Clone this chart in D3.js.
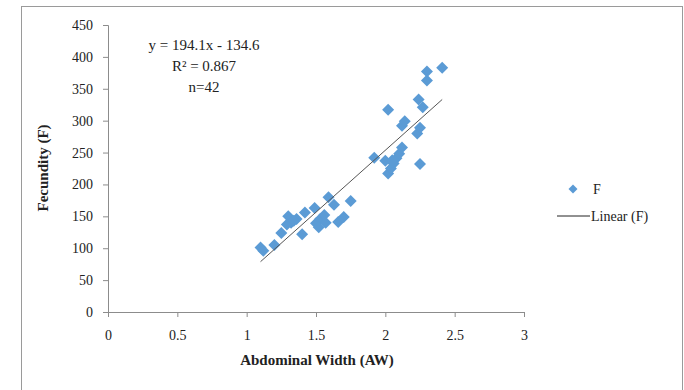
<!DOCTYPE html>
<html lang="en">
<head>
  <meta charset="UTF-8">
  <title>Fecundity vs Abdominal Width</title>
  <style>
    body { margin: 0; background: #fff; }
    svg { display: block; font-family: "Liberation Serif", "Times New Roman", serif; }
    .axis path, .axis line { stroke: #8c8c8c; }
    .title { font-size: 15px; font-weight: bold; fill: #222; }
    .note { font-size: 15px; fill: #222; }
    .legend { font-size: 14px; fill: #222; }
  </style>
</head>
<body>
  <svg id="chart" width="684" height="390"></svg>
  <script src="https://d3js.org/d3.v7.min.js"></script>
  <script>
    // abdominal width (AW) and fecundity (F) for each of the 42 samples
    const aw = [1.10, 1.12, 1.20, 1.25, 1.30, 1.32, 1.29, 1.36, 1.34, 1.40,
                1.42, 1.49, 1.50, 1.53, 1.56, 1.52, 1.57, 1.59, 1.63, 1.66,
                1.70, 1.75, 1.92, 2.00, 2.02, 2.04, 2.06, 2.08, 2.10, 2.12,
                2.02, 2.12, 2.14, 2.23, 2.25, 2.24, 2.27, 2.25, 2.30, 2.30,
                2.41, 2.05];
    const fec = [101, 96, 105, 124, 150, 140, 137, 146, 143, 122,
                 156, 163, 139, 146, 152, 133, 140, 180, 168, 141,
                 149, 174, 242, 237, 217, 225, 233, 241, 248, 258,
                 317, 292, 299, 280, 289, 333, 321, 232, 377, 363,
                 383, 238];
    const xTicks = [0, 0.5, 1, 1.5, 2, 2.5, 3];
    const yTicks = [0, 50, 100, 150, 200, 250, 300, 350, 400, 450];
    const slope = 194.1, intercept = -134.6;
    const noteLines = ["y = 194.1x - 134.6", "R² = 0.867", "n=42"];
    const legendLabels = ["F", "Linear (F)"];

    const svg = d3.select("#chart");
    const color = "#5b9bd5";

    // outer chart frame
    svg.append("rect")
      .attr("x", 21.5).attr("y", 6.5)
      .attr("width", 661).attr("height", 400)
      .attr("fill", "none").attr("stroke", "#9a9a9a");

    const x = d3.scaleLinear().domain([0, 3]).range([108, 524]);
    const y = d3.scaleLinear().domain([0, 450]).range([312, 25]);

    const gx = svg.append("g")
      .attr("class", "axis")
      .attr("transform", "translate(0,312)")
      .call(d3.axisBottom(x).tickValues(xTicks).tickSize(5).tickSizeOuter(5).tickPadding(10).tickFormat(d3.format("")));
    gx.selectAll("text").attr("dy", "0.9em");

    const gy = svg.append("g")
      .attr("class", "axis")
      .attr("transform", "translate(108,0)")
      .call(d3.axisLeft(y).tickValues(yTicks).tickSize(5).tickSizeOuter(5).tickPadding(10));

    [gx, gy].forEach(g => g
      .attr("font-family", "Liberation Serif, serif")
      .attr("font-size", 14)
      .selectAll("text").attr("fill", "#222"));

    // axis titles
    svg.append("text").attr("class", "title")
      .attr("x", 317).attr("y", 365).attr("text-anchor", "middle")
      .text("Abdominal Width (AW)");
    svg.append("text").attr("class", "title")
      .attr("transform", "translate(48,168) rotate(-90)")
      .attr("text-anchor", "middle")
      .text("Fecundity (F)");

    // points
    const points = aw.map((d, i) => ({ x: d, y: fec[i] }));
    const diamond = d3.symbol().type(d3.symbolSquare).size(72);
    svg.append("g")
      .selectAll("path")
      .data(points)
      .join("path")
      .attr("d", diamond)
      .attr("transform", d => `translate(${x(d.x)},${y(d.y)}) rotate(45)`)
      .attr("fill", color);

    // linear trend line over the data range
    const xr = d3.extent(aw);
    svg.append("line")
      .attr("x1", x(xr[0])).attr("y1", y(slope * xr[0] + intercept))
      .attr("x2", x(xr[1])).attr("y2", y(slope * xr[1] + intercept))
      .attr("stroke", "#555").attr("stroke-width", 1);

    // equation note
    svg.append("g")
      .selectAll("text")
      .data(noteLines)
      .join("text")
      .attr("class", "note")
      .attr("x", 204)
      .attr("y", (d, i) => 50 + i * 21)
      .attr("text-anchor", "middle")
      .text(d => d);

    // legend
    const lg = svg.append("g");
    lg.append("path")
      .attr("d", d3.symbol().type(d3.symbolSquare).size(40))
      .attr("transform", "translate(573,189) rotate(45)")
      .attr("fill", color);
    lg.append("text").attr("class", "legend")
      .attr("x", 593).attr("y", 194).text(legendLabels[0]);
    lg.append("line")
      .attr("x1", 557).attr("x2", 590).attr("y1", 216).attr("y2", 216)
      .attr("stroke", "#222").attr("stroke-width", 1);
    lg.append("text").attr("class", "legend")
      .attr("x", 591).attr("y", 221).text(legendLabels[1]);
  </script>
</body>
</html>
